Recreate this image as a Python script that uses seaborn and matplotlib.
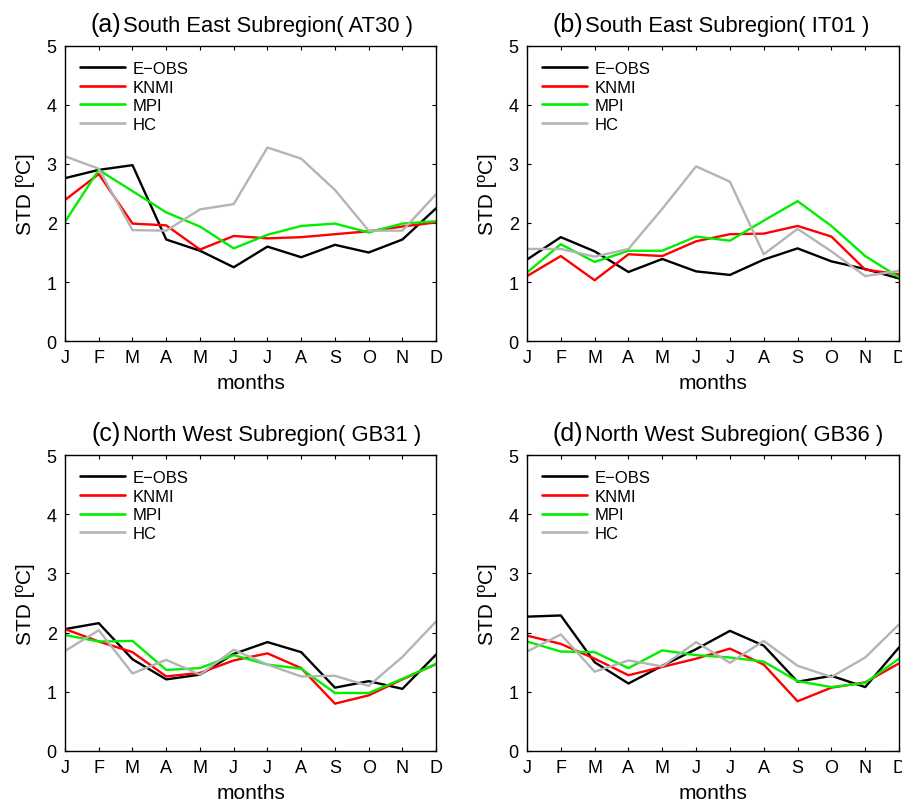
import numpy as np
import pandas as pd
import matplotlib
matplotlib.use("Agg")
import matplotlib.pyplot as plt
import seaborn as sns

months = ["J", "F", "M", "A", "M", "J", "J", "A", "S", "O", "N", "D"]
series_names = ["E\u2212OBS", "KNMI", "MPI", "HC"]

# (a) South East AT30
a_eobs = [2.76, 2.90, 2.98, 1.72, 1.53, 1.25, 1.60, 1.42, 1.63, 1.50, 1.72, 2.25]
a_knmi = [2.39, 2.83, 1.99, 1.96, 1.55, 1.78, 1.74, 1.76, 1.81, 1.86, 1.94, 2.01]
a_mpi = [2.02, 2.90, 2.54, 2.18, 1.94, 1.57, 1.80, 1.95, 1.99, 1.84, 1.99, 2.03]
a_hc = [3.13, 2.92, 1.88, 1.87, 2.23, 2.32, 3.28, 3.09, 2.56, 1.87, 1.87, 2.49]

# (b) South East IT01
b_eobs = [1.38, 1.76, 1.52, 1.17, 1.39, 1.18, 1.12, 1.38, 1.57, 1.35, 1.22, 1.06]
b_knmi = [1.10, 1.44, 1.03, 1.47, 1.44, 1.69, 1.81, 1.82, 1.95, 1.77, 1.21, 1.13]
b_mpi = [1.16, 1.64, 1.34, 1.53, 1.53, 1.77, 1.70, 2.04, 2.37, 1.95, 1.44, 1.08]
b_hc = [1.56, 1.56, 1.43, 1.56, 2.24, 2.96, 2.70, 1.47, 1.90, 1.52, 1.10, 1.19]

# (c) North West GB31
c_eobs = [2.06, 2.16, 1.55, 1.21, 1.29, 1.64, 1.84, 1.67, 1.07, 1.18, 1.05, 1.63]
c_knmi = [2.06, 1.85, 1.67, 1.26, 1.32, 1.53, 1.65, 1.40, 0.80, 0.94, 1.21, 1.47]
c_mpi = [1.96, 1.85, 1.86, 1.37, 1.40, 1.62, 1.46, 1.39, 0.98, 0.98, 1.22, 1.47]
c_hc = [1.69, 2.04, 1.31, 1.54, 1.29, 1.71, 1.46, 1.26, 1.27, 1.10, 1.59, 2.19]

# (d) North West GB36
d_eobs = [2.27, 2.29, 1.50, 1.14, 1.44, 1.72, 2.03, 1.78, 1.17, 1.27, 1.08, 1.75]
d_knmi = [1.95, 1.81, 1.56, 1.28, 1.42, 1.56, 1.73, 1.46, 0.84, 1.07, 1.16, 1.48]
d_mpi = [1.85, 1.68, 1.67, 1.40, 1.70, 1.62, 1.58, 1.51, 1.18, 1.08, 1.15, 1.56]
d_hc = [1.68, 1.97, 1.34, 1.53, 1.43, 1.84, 1.49, 1.86, 1.44, 1.25, 1.58, 2.14]

panels = [
    ("(a)", "South East Subregion( AT30 )", [a_eobs, a_knmi, a_mpi, a_hc]),
    ("(b)", "South East Subregion( IT01 )", [b_eobs, b_knmi, b_mpi, b_hc]),
    ("(c)", "North West Subregion( GB31 )", [c_eobs, c_knmi, c_mpi, c_hc]),
    ("(d)", "North West Subregion( GB36 )", [d_eobs, d_knmi, d_mpi, d_hc]),
]

colors = {"E\u2212OBS": "black", "KNMI": "#ff0000", "MPI": "#00ee00", "HC": "#b4b4b4"}

sns.set_style("ticks")
plt.rcParams["font.family"] = ["Liberation Sans", "DejaVu Sans"]
plt.rcParams["axes.linewidth"] = 1.0
plt.rcParams["text.color"] = "black"
plt.rcParams["axes.labelcolor"] = "black"
plt.rcParams["xtick.color"] = "black"
plt.rcParams["ytick.color"] = "black"
plt.rcParams["axes.edgecolor"] = "black"
title_font = ["Liberation Sans Narrow", "Liberation Sans", "DejaVu Sans"]

fig = plt.figure(figsize=(9.03, 8.04), dpi=100)
positions = [
    [0.072, 0.5746, 0.411, 0.367],
    [0.5836, 0.5746, 0.412, 0.367],
    [0.072, 0.0647, 0.411, 0.368],
    [0.5836, 0.0647, 0.412, 0.368],
]

x = np.arange(1, 13)
for pos, (tag, title, vals) in zip(positions, panels):
    ax = fig.add_axes(pos)
    rows = []
    for name, v in zip(series_names, vals):
        for m, val in zip(x, v):
            rows.append({"month": m, "std": val, "series": name})
    df = pd.DataFrame(rows)
    sns.lineplot(data=df, x="month", y="std", hue="series", hue_order=series_names,
                 palette=colors, linewidth=1.7, ax=ax)
    ax.set_xlim(1, 12)
    ax.set_ylim(0, 5)
    ax.set_xticks(x)
    ax.set_xticklabels(months)
    ax.set_yticks(range(6))
    ax.tick_params(direction="in", top=True, right=True, labelsize=13, length=3, pad=6)
    ax.set_xlabel("months", fontsize=15, labelpad=5)
    ax.set_ylabel("STD [\u00baC]", fontsize=15, labelpad=8)
    for s in ax.spines.values():
        s.set_visible(True)
    ax.text(0.151, 1.035, tag, transform=ax.transAxes, ha="right", va="bottom",
            fontsize=18, family=title_font)
    ax.text(0.157, 1.035, title, transform=ax.transAxes, ha="left", va="bottom",
            fontsize=15.8, family=title_font)
    leg = ax.legend(loc="upper left", frameon=False, fontsize=12, handlelength=2.7,
                    handletextpad=0.45, labelspacing=0.22, borderaxespad=0.5,
                    bbox_to_anchor=(0.0, 1.0))
    for h in leg.get_lines():
        h.set_linewidth(1.9)

fig.savefig("out.png", dpi=100)
